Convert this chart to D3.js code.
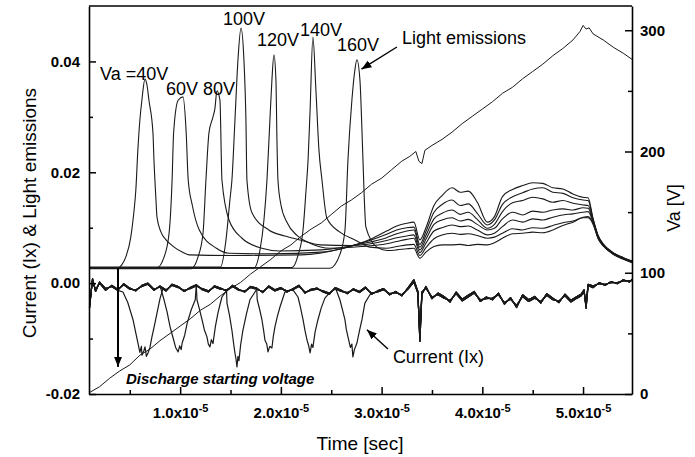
<!DOCTYPE html>
<html>
<head>
<meta charset="utf-8">
<script src="https://cdn.jsdelivr.net/npm/d3@7"></script>
<style>
body { margin: 0; background: #fff; }
svg { font-family: "Liberation Sans", Arial, Helvetica, sans-serif; }
</style>
</head>
<body>
<div id="chart"></div>
<script>
// time is in units of 1e-5 s, left axis values in units of 1e-3

// applied voltage ramp (right axis)
var vaTime = [0.095, 0.20, 0.30, 0.40, 0.50, 0.60, 0.70, 0.80, 0.90, 1.00, 1.10, 1.20, 1.30, 1.40, 1.50, 1.60, 1.70, 1.80, 1.90, 2.00,
  2.10, 2.20, 2.30, 2.40, 2.50, 2.60, 2.70, 2.80, 2.90, 3.00, 3.10, 3.20, 3.28, 3.34, 3.37, 3.40, 3.43, 3.50, 3.60, 3.70,
  3.80, 3.90, 4.00, 4.10, 4.20, 4.30, 4.40, 4.50, 4.60, 4.70, 4.80, 4.90, 4.97, 5.00, 5.03, 5.06, 5.10, 5.20, 5.30, 5.40, 5.486];
var vaVolt = [1, 6, 13, 19, 24, 32, 37, 44, 50, 56, 62, 69, 74, 81, 87, 92, 99, 105, 111, 118,
  123, 130, 136, 141, 148, 155, 160, 166, 173, 178, 185, 192, 196, 200, 192, 190, 201, 205, 210, 216,
  223, 229, 235, 241, 248, 253, 260, 266, 272, 279, 285, 292, 299, 304, 301, 302, 297, 292, 286, 281, 276];

// light emission peaks, one per Va amplitude: [time, value]
var emit40 = [[0.095,2.7],[0.38,2.7],[0.42,3.3],[0.46,4.7],[0.51,8.3],[0.54,12.7],[0.56,16.8],[0.58,24.0],[0.60,29.4],[0.62,33.0],
  [0.651,36.8],[0.671,35.7],[0.69,33.0],[0.73,27.1],[0.74,22.2],[0.76,15.0],[0.77,11.9],[0.81,9.2],[0.86,7.8],[0.94,6.5],
  [1.02,5.6],[1.09,5.1],[1.5,5.0],[2.2,5.1],[2.6,6.2],[2.9,8.0],[3.05,9.4]];
var emit60 = [[0.095,2.8],[0.77,2.8],[0.84,4.7],[0.89,9.0],[0.92,18.6],[0.935,27.1],[0.98,33.0],[1.028,33.6],[1.06,27.1],[1.08,18.6],
  [1.12,14.1],[1.19,9.6],[1.36,6.3],[1.485,5.4],[1.9,5.3],[2.4,5.6],[2.8,7.2],[3.05,8.8]];
var emit80 = [[0.095,2.6],[1.107,2.6],[1.177,4.7],[1.227,9.0],[1.256,18.6],[1.286,27.1],[1.326,30.0],[1.345,31.5],[1.365,34.7],[1.395,33.0],
  [1.415,18.6],[1.485,11.4],[1.614,8.1],[1.812,6.3],[1.99,5.8],[2.4,6.0],[2.8,7.1],[3.05,8.2]];
var emit100 = [[0.095,2.9],[1.40,2.9],[1.455,7.8],[1.494,15.0],[1.514,18.6],[1.544,29.4],[1.574,40.3],[1.604,46.0],[1.633,40.3],[1.653,29.4],
  [1.663,18.6],[1.713,12.7],[1.88,9.6],[2.04,8.5],[2.19,7.8],[2.39,6.9],[2.7,6.8],[3.05,7.7]];
var emit120 = [[0.095,2.7],[1.733,2.7],[1.792,5.9],[1.832,11.4],[1.862,18.6],[1.891,29.4],[1.911,36.6],[1.931,41.2],[1.951,36.6],[1.961,25.8],
  [1.971,18.6],[2.001,14.1],[2.06,11.0],[2.16,8.6],[2.29,7.2],[2.487,6.3],[2.8,6.6],[3.05,7.1]];
var emit140 = [[0.095,2.8],[2.11,2.8],[2.17,5.0],[2.22,9.6],[2.25,16.8],[2.27,22.2],[2.29,31.2],[2.318,44.4],[2.348,34.8],[2.378,24.0],
  [2.408,18.6],[2.457,11.7],[2.586,9.2],[2.735,7.8],[2.884,6.5],[3.05,6.3]];
var emit160 = [[0.095,2.7],[2.487,2.7],[2.586,5.2],[2.636,9.5],[2.666,22.2],[2.705,33.0],[2.735,38.5],[2.755,40.3],[2.785,36.6],[2.805,27.6],
  [2.815,22.2],[2.844,10.1],[2.953,6.5],[3.053,5.9]];

// late part of the emission traces (all seven overlap here), lowest row first
var bundleTime = [3.15, 3.25, 3.32, 3.38, 3.44, 3.52, 3.6, 3.7, 3.78, 3.86, 3.95, 4.05, 4.12, 4.2, 4.3,
  4.4, 4.5, 4.6, 4.7, 4.8, 4.9, 5.0, 5.05, 5.1, 5.15, 5.2, 5.3, 5.4, 5.486];
var bundleRows = [
  [6.0, 6.2, 6.3, 4.5, 5.6, 6.6, 6.9, 6.9, 7.0, 6.8, 7.0, 6.9, 7.3, 8.1, 8.9, 9.0, 9.2, 9.1, 9.6, 10.4, 11.0, 11.8, 11.8, 10.6, 8.0, 6.7, 5.2, 4.3, 3.7],
  [6.6, 6.9, 7.0, 5.0, 6.4, 8.0, 8.7, 9.0, 8.8, 8.9, 8.6, 8.1, 8.3, 9.0, 9.8, 9.6, 10.0, 9.9, 10.4, 10.9, 11.2, 11.9, 12.0, 10.8, 8.1, 6.8, 5.2, 4.4, 3.8],
  [7.5, 7.9, 8.1, 5.5, 7.2, 9.4, 10.0, 10.5, 10.2, 10.3, 9.6, 8.7, 9.0, 10.2, 11.4, 11.0, 11.6, 11.4, 11.9, 12.3, 12.5, 12.8, 12.9, 11.0, 8.2, 6.8, 5.3, 4.4, 3.8],
  [8.2, 8.5, 8.7, 6.0, 7.9, 10.6, 11.4, 11.8, 11.2, 11.5, 10.6, 9.6, 9.9, 11.6, 12.8, 12.3, 13.0, 12.8, 13.2, 13.4, 13.2, 13.6, 13.5, 11.2, 8.3, 6.9, 5.3, 4.5, 3.9],
  [8.9, 9.4, 9.6, 6.5, 8.6, 11.6, 12.6, 13.2, 12.4, 12.8, 11.5, 9.9, 10.6, 12.9, 14.5, 14.9, 15.5, 15.2, 14.6, 14.9, 14.4, 14.1, 14.0, 11.3, 8.4, 6.9, 5.4, 4.5, 3.9],
  [9.6, 10.0, 10.1, 7.0, 9.3, 12.8, 14.2, 15.0, 14.0, 14.3, 12.6, 10.5, 11.4, 14.2, 15.6, 16.3, 17.0, 17.2, 16.4, 16.2, 15.4, 15.0, 14.9, 11.5, 8.5, 7.0, 5.4, 4.6, 4.0],
  [10.3, 10.8, 11.0, 7.8, 10.0, 14.0, 15.8, 17.2, 16.4, 16.6, 14.6, 11.0, 12.0, 15.6, 16.9, 17.6, 18.1, 18.0, 17.2, 17.0, 16.1, 15.5, 15.4, 11.6, 8.6, 7.1, 5.5, 4.6, 4.0]
];

// current traces: two noisy baselines and one dip per trace
var curTime = [0.10, 0.13, 0.16, 0.20, 0.26, 0.32, 0.38, 0.44, 0.50, 0.56,
  0.62, 0.68, 0.74, 0.80, 0.86, 0.92, 0.98, 1.04, 1.10, 1.16,
  1.22, 1.28, 1.34, 1.40, 1.46, 1.52, 1.58, 1.64, 1.70, 1.76,
  1.82, 1.88, 1.94, 2.00, 2.06, 2.12, 2.18, 2.24, 2.30, 2.36,
  2.42, 2.48, 2.54, 2.60, 2.66, 2.72, 2.78, 2.84, 2.90, 2.96,
  3.02, 3.08, 3.14, 3.20, 3.26, 3.32, 3.36, 3.38, 3.40, 3.44,
  3.50, 3.56, 3.62, 3.68, 3.74, 3.80, 3.86, 3.92, 3.98, 4.04,
  4.10, 4.16, 4.22, 4.28, 4.34, 4.40, 4.46, 4.52, 4.58, 4.64,
  4.70, 4.76, 4.82, 4.88, 4.94, 4.98, 5.01, 5.03, 5.05, 5.10,
  5.16, 5.22, 5.28, 5.34, 5.40, 5.46, 5.49];
var curBaseA = [-4.5, 0.8, -1.5, 0.2, -1.0, -0.6, -1.3, -0.1, -0.9, -1.4,
  -0.4, 0.0, -1.1, -0.7, -1.4, -0.2, -0.6, -1.5, -0.8, -0.3,
  -1.2, -1.6, -0.5, -0.9, -1.4, -0.4, -1.1, -1.6, -0.6, -0.9,
  -1.7, -0.5, -1.2, -0.8, -1.6, -1.0, -0.4, -1.8, -1.1, -0.9,
  -1.6, -2.0, -0.8, -1.3, -1.9, -1.0, -1.5, -0.7, -2.0, -1.4,
  -1.0, -2.1, -1.5, -2.3, -0.9, 0.6, -1.5, -10.5, -2.0, -0.6,
  -2.8, -1.8, -2.4, -3.4, -1.6, -2.9, -2.2, -1.5, -3.3, -2.5,
  -3.0, -1.8, -3.8, -2.6, -4.4, -2.1, -3.0, -2.4, -3.6, -1.9,
  -2.7, -3.5, -2.0, -3.1, -2.4, -2.0, -1.2, -4.5, -0.4, -0.8,
  0.1, -0.4, 0.3, -0.1, 0.6, 0.2, 0.7];
var curBaseB = [-4.0, 0.5, -1.2, 0.0, -1.3, -0.4, -1.1, -0.3, -1.1, -1.2,
  -0.6, -0.2, -1.3, -0.5, -1.2, -0.4, -0.8, -1.3, -1.0, -0.5,
  -1.0, -1.4, -0.7, -1.1, -1.2, -0.6, -1.3, -1.4, -0.8, -1.1,
  -1.5, -0.7, -1.4, -1.0, -1.4, -1.2, -0.6, -1.6, -1.3, -1.1,
  -1.4, -1.8, -1.0, -1.5, -1.7, -1.2, -1.7, -0.9, -1.8, -1.6,
  -1.2, -1.9, -1.7, -2.1, -1.1, 0.2, -1.8, -9.5, -1.6, -0.9,
  -2.5, -2.1, -2.7, -3.1, -1.9, -3.2, -2.5, -1.8, -3.0, -2.8,
  -2.7, -2.1, -3.5, -2.9, -4.0, -2.4, -3.3, -2.7, -3.3, -2.2,
  -3.0, -3.2, -2.3, -3.4, -2.7, -2.3, -1.6, -4.0, -0.2, -0.5,
  -0.1, -0.2, 0.1, 0.1, 0.4, 0.4, 0.5];
var dip40 = [[0.432,-1.6],[0.48,-3.5],[0.532,-6.6],[0.56,-9.0],[0.581,-10.8],[0.60,-12.5],[0.615,-11.4],[0.621,-13.0],[0.64,-12.2],
  [0.651,-11.5],[0.665,-13.2],[0.681,-12.6],[0.70,-11.6],[0.72,-9.7],[0.745,-7.6],[0.77,-5.4],[0.80,-2.8],[0.83,-0.9]];
var dip60 = [[0.84,-3.0],[0.87,-5.2],[0.90,-7.9],[0.93,-9.9],[0.955,-11.6],[0.98,-12.4],[0.995,-11.3],[1.01,-12.0],[1.02,-10.8],
  [1.045,-9.4],[1.07,-7.2],[1.11,-4.8],[1.15,-3.0]];
var dip80 = [[1.167,-3.0],[1.19,-4.6],[1.217,-6.6],[1.24,-8.4],[1.266,-9.7],[1.28,-11.0],[1.296,-11.5],[1.31,-10.2],[1.326,-10.9],
  [1.35,-7.8],[1.375,-5.4],[1.395,-3.9],[1.415,-2.5]];
var dip100 = [[1.465,-3.6],[1.49,-5.8],[1.514,-8.5],[1.53,-10.8],[1.544,-12.6],[1.554,-13.6],[1.564,-15.1],[1.574,-13.2],[1.584,-14.0],
  [1.60,-11.2],[1.623,-8.5],[1.66,-5.4],[1.693,-3.0],[1.743,-1.6]];
var dip120 = [[1.765,-3.0],[1.79,-4.8],[1.812,-6.6],[1.83,-8.7],[1.842,-10.3],[1.86,-11.0],[1.872,-12.4],[1.89,-11.4],[1.911,-11.7],
  [1.925,-9.6],[1.941,-7.9],[1.965,-6.0],[1.991,-4.3],[2.04,-1.6]];
var dip140 = [[2.17,-2.5],[2.195,-4.4],[2.22,-6.6],[2.24,-8.6],[2.26,-10.3],[2.275,-11.2],[2.29,-12.6],[2.305,-11.0],[2.318,-11.6],
  [2.34,-8.8],[2.368,-6.6],[2.40,-4.5],[2.437,-2.7]];
var dip160 = [[2.586,-3.0],[2.61,-4.7],[2.636,-6.6],[2.65,-8.4],[2.666,-9.7],[2.69,-11.6],[2.705,-11.0],[2.715,-13.3],[2.73,-12.0],
  [2.755,-10.8],[2.78,-8.6],[2.805,-6.6],[2.834,-3.6],[2.884,-2.1]];

var leftTicks = [-20, 0, 20, 40], leftMinor = [-10, 10, 30];
var rightTicks = [0, 100, 200, 300], rightMinor = [50, 150, 250];
var timeTicks = [1, 2, 3, 4, 5], timeMinor = [0.5, 1.5, 2.5, 3.5, 4.5];

// annotations placed in data coordinates
var labels = [
  {text: "Va =40V", t: 0.204, v: 36.6},
  {text: "60V 80V", t: 0.859, v: 33.9},
  {text: "100V", t: 1.425, v: 46.6},
  {text: "120V", t: 1.762, v: 42.8},
  {text: "140V", t: 2.189, v: 44.6},
  {text: "160V", t: 2.556, v: 41.9},
  {text: "Light emissions", t: 3.202, v: 43.1},
  {text: "Current (Ix)", t: 3.112, v: -14.4}
];

var W = 695, H = 457;
var svg = d3.select("#chart").append("svg").attr("width", W).attr("height", H);

var x = d3.scaleLinear().domain([0.095, 5.486]).range([89, 632]);
var yL = d3.scaleLinear().domain([-20, 50]).range([394, 6]);
var yR = d3.scaleLinear().domain([0, 320]).range([394, 6]);

var defs = svg.append("defs");
defs.append("marker").attr("id", "arrow")
  .attr("viewBox", "0 0 10 8").attr("refX", 10).attr("refY", 4)
  .attr("markerWidth", 10).attr("markerHeight", 8)
  .attr("markerUnits", "userSpaceOnUse").attr("orient", "auto")
  .append("path").attr("d", "M0,0L10,4L0,8z").attr("fill", "#000");

var lineSmooth = d3.line().curve(d3.curveMonotoneX)
  .x(function(d) { return x(d[0]); }).y(function(d) { return yL(d[1]); });
var lineL = d3.line().x(function(d) { return x(d[0]); }).y(function(d) { return yL(d[1]); });
var lineR = d3.line().x(function(d) { return x(d[0]); }).y(function(d) { return yR(d[1]); });

// emission traces
var peaks = [emit40, emit60, emit80, emit100, emit120, emit140, emit160];
peaks.forEach(function(p, i) {
  var row = bundleRows[6 - i];
  var pts = p.concat(bundleTime.map(function(t, j) { return [t, row[j]]; }));
  svg.append("path").datum(pts).attr("d", lineSmooth)
    .attr("fill", "none").attr("stroke", "#1a1a1a").attr("stroke-width", 1.1)
    .attr("stroke-linejoin", "round");
});

// current traces
var dips = [dip40, dip60, dip80, dip100, dip120, dip140, dip160];
dips.forEach(function(dip, i) {
  var base = i % 2 == 0 ? curBaseA : curBaseB;
  var t0 = dip[0][0], t1 = dip[dip.length - 1][0];
  var pts = curTime.map(function(t, j) { return [t, base[j]]; })
    .filter(function(p) { return p[0] < t0 || p[0] > t1; })
    .concat(dip)
    .sort(function(a, b) { return a[0] - b[0]; });
  svg.append("path").datum(pts).attr("d", lineL)
    .attr("fill", "none").attr("stroke", "#1a1a1a").attr("stroke-width", 1.2)
    .attr("stroke-linejoin", "round");
});

// Va ramp
svg.append("path").datum(vaTime.map(function(t, i) { return [t, vaVolt[i]]; }))
  .attr("d", lineR).attr("fill", "none").attr("stroke", "#1a1a1a").attr("stroke-width", 1);

// axes
function styleAxis(g, size) {
  g.attr("font-size", size).attr("font-family", "'Liberation Sans', Arial, sans-serif");
  g.selectAll(".domain").attr("stroke", "#000").attr("stroke-width", 1.6);
  g.selectAll(".tick line").attr("stroke", "#000").attr("stroke-width", 1.5);
  g.selectAll(".tick text").attr("fill", "#000").attr("font-weight", "bold")
    .style("font-size", size + "px");
}

var gL = svg.append("g").attr("transform", "translate(89,0)")
  .call(d3.axisLeft(yL).tickValues(leftTicks).tickSize(-7).tickSizeOuter(0).tickPadding(9)
    .tickFormat(function(d) { return (d / 1000).toFixed(2); }));
styleAxis(gL, 15);
svg.append("g").attr("transform", "translate(89,0)")
  .call(d3.axisLeft(yL).tickValues(leftMinor).tickSize(-4).tickFormat(""))
  .call(function(g) { g.select(".domain").remove(); styleAxis(g, 15); });

var gR = svg.append("g").attr("transform", "translate(632,0)")
  .call(d3.axisRight(yR).tickValues(rightTicks).tickSize(-7).tickSizeOuter(0).tickPadding(8));
styleAxis(gR, 15);
svg.append("g").attr("transform", "translate(632,0)")
  .call(d3.axisRight(yR).tickValues(rightMinor).tickSize(-4).tickFormat(""))
  .call(function(g) { g.select(".domain").remove(); styleAxis(g, 15); });

var gB = svg.append("g").attr("transform", "translate(0,394)")
  .call(d3.axisBottom(x).tickValues(timeTicks).tickSize(-7).tickSizeOuter(0).tickPadding(13)
    .tickFormat(""));
styleAxis(gB, 15);
gB.selectAll(".tick text").each(function(d) {
  var t = d3.select(this);
  t.append("tspan").style("font-size", "15px").text(d.toFixed(1) + "x10");
  t.append("tspan").attr("dy", -6).style("font-size", "11px").text("-5");
});
svg.append("g").attr("transform", "translate(0,394)")
  .call(d3.axisBottom(x).tickValues(timeMinor).tickSize(-4).tickFormat(""))
  .call(function(g) { g.select(".domain").remove(); styleAxis(g, 15); });

// top frame
svg.append("line").attr("x1", x.range()[0]).attr("x2", x.range()[1])
  .attr("y1", yL.range()[1]).attr("y2", yL.range()[1])
  .attr("stroke", "#000").attr("stroke-width", 1.6);

// axis titles
svg.append("text").attr("x", 360).attr("y", 450).attr("text-anchor", "middle")
  .attr("font-size", 19).text("Time [sec]");
svg.append("text").attr("transform", "translate(36,213) rotate(-90)").attr("text-anchor", "middle")
  .attr("font-size", 19).text("Current (Ix) & Light emissions");
svg.append("text").attr("transform", "translate(680,208) rotate(-90)").attr("text-anchor", "middle")
  .attr("font-size", 18).text("Va [V]");

// annotations
svg.selectAll(".label").data(labels).enter().append("text")
  .attr("class", "label")
  .attr("x", function(d) { return x(d.t); })
  .attr("y", function(d) { return yL(d.v); })
  .attr("font-size", 18)
  .text(function(d) { return d.text; });

svg.append("text").attr("x", x(0.462)).attr("y", yL(-18.2))
  .attr("font-size", 15).attr("font-weight", "bold").attr("font-style", "italic")
  .text("Discharge starting voltage");

// arrows
svg.append("line").attr("x1", x(3.152)).attr("y1", yL(42.6)).attr("x2", x(2.80)).attr("y2", yL(38.6))
  .attr("stroke", "#000").attr("stroke-width", 1.4).attr("marker-end", "url(#arrow)");
svg.append("line").attr("x1", x(3.063)).attr("y1", yL(-11.9)).attr("x2", x(2.854)).attr("y2", yL(-8.4))
  .attr("stroke", "#000").attr("stroke-width", 1.4).attr("marker-end", "url(#arrow)");
svg.append("line").attr("x1", x(0.383)).attr("y1", yL(2.7)).attr("x2", x(0.383)).attr("y2", yL(-15.1))
  .attr("stroke", "#000").attr("stroke-width", 2).attr("marker-end", "url(#arrow)");
</script>
</body>
</html>
